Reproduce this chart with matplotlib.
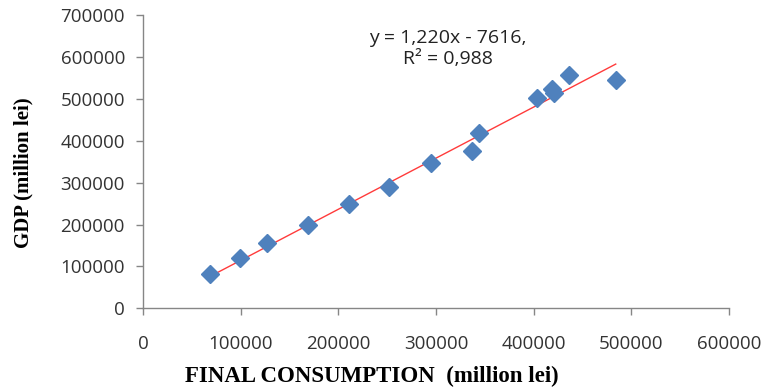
import numpy as np
import matplotlib
matplotlib.use("Agg")
import matplotlib.pyplot as plt

# final consumption vs GDP, million lei
consumption = [69000, 99000, 127000, 169000, 211000, 252000, 295000,
               337000, 344000, 403000, 419000, 421000, 436000, 484000]
gdp = [83000, 119000, 155000, 198000, 248000, 289000, 346000,
       375000, 418000, 501000, 523000, 515000, 556000, 544000]

slope = 1.220
intercept = -7616

xticks = [0, 100000, 200000, 300000, 400000, 500000, 600000]
yticks = [0, 100000, 200000, 300000, 400000, 500000, 600000, 700000]

fig = plt.figure(figsize=(7.69, 3.90), dpi=100)
ax = fig.add_axes([0.186, 0.2095, 0.762, 0.752])

tick_font = "Open Sans"
grey = "#868686"

ax.plot(consumption, gdp, linestyle="none", marker="D", markersize=9,
        color="#4F81BD", markeredgecolor="#4F81BD", zorder=3)

xl = np.array([min(consumption), max(consumption)])
ax.plot(xl, slope * xl + intercept, color="#FF3B3B", linewidth=1, zorder=2)

ax.set_xlim(0, 600000)
ax.set_ylim(0, 700000)
ax.set_xticks(xticks)
ax.set_yticks(yticks)
ax.set_xticklabels([str(t) for t in xticks], fontfamily=tick_font, fontsize=13.5, color="#333333")
ax.set_yticklabels([str(t) for t in yticks], fontfamily=tick_font, fontsize=13.5, color="#333333")

for s in ["top", "right"]:
    ax.spines[s].set_visible(False)
for s in ["left", "bottom"]:
    ax.spines[s].set_color(grey)
    ax.spines[s].set_linewidth(1)
ax.tick_params(axis="both", direction="out", length=5, width=1, color=grey)
ax.tick_params(axis="x", pad=14)
ax.tick_params(axis="y", pad=8)

fig.text(372 / 769, 1 - 376 / 390, "FINAL CONSUMPTION  (million lei)",
         fontfamily="Liberation Serif", fontweight="bold", fontsize=16.5,
         ha="center", va="center")
fig.text(23 / 769, 1 - 173 / 390, "GDP (million lei)", rotation=90,
         fontfamily="Liberation Serif", fontweight="bold", fontsize=15,
         ha="center", va="center")

ax.text(0.52, 0.885, "y = 1,220x - 7616,\nR² = 0,988", transform=ax.transAxes,
        ha="center", va="center", fontfamily=tick_font, fontsize=14,
        color="#222222", linespacing=1.25)

fig.savefig("out.png", dpi=100)
